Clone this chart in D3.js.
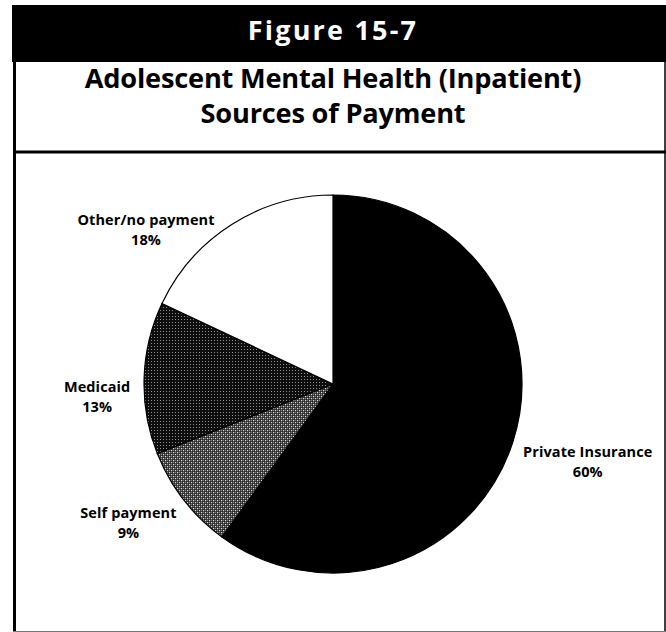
<!DOCTYPE html>
<html>
<head>
<meta charset="utf-8">
<script src="https://cdn.jsdelivr.net/npm/d3@7"></script>
<style>
  html, body { margin: 0; padding: 0; background: #fff; }
  svg { display: block; }
</style>
</head>
<body>
<svg id="chart" width="666" height="632"></svg>
<script>
// Sources of payment for adolescent inpatient mental health care (percent)
const categories = ["Private Insurance", "Self payment", "Medicaid", "Other/no payment"];
const shares = [60, 9, 13, 18];
const shareLabels = ["60%", "9%", "13%", "18%"];

const figureLabel = "Figure 15-7";
const titleLines = ["Adolescent Mental Health (Inpatient)", "Sources of Payment"];

const W = 666, H = 632;
const svg = d3.select("#chart");
const FONT = "'Open Sans', 'Noto Sans', sans-serif";

svg.append("rect").attr("width", W).attr("height", H).attr("fill", "#fff");

// Stipple textures for the two shaded slices
const defs = svg.append("defs");
const dark = defs.append("pattern").attr("id", "stipple-dark")
  .attr("patternUnits", "userSpaceOnUse").attr("width", 3).attr("height", 3);
dark.append("rect").attr("width", 3).attr("height", 3).attr("fill", "#0e0e0e");
dark.append("rect").attr("x", 1).attr("y", 1).attr("width", 1).attr("height", 1).attr("fill", "#8e8e8e");

const light = defs.append("pattern").attr("id", "stipple-light")
  .attr("patternUnits", "userSpaceOnUse").attr("width", 4).attr("height", 4);
light.append("rect").attr("width", 4).attr("height", 4).attr("fill", "#1a1a1a");
[[0, 0, "#dcdcdc"], [2, 2, "#d4d4d4"], [2, 0, "#7a7a7a"], [0, 2, "#828282"]].forEach(([x, y, c]) =>
  light.append("rect").attr("x", x).attr("y", y).attr("width", 1.3).attr("height", 1.3).attr("fill", c));

const fills = d3.scaleOrdinal()
  .domain(categories)
  .range(["#000", "url(#stipple-light)", "url(#stipple-dark)", "#fff"]);

// Frame: black header band, borders and divider
svg.append("rect").attr("x", 12).attr("y", 5).attr("width", W - 12).attr("height", 57).attr("fill", "#000");
svg.append("line").attr("x1", 14.5).attr("x2", 14.5).attr("y1", 60).attr("y2", H)
  .attr("stroke", "#000").attr("stroke-width", 3);
svg.append("line").attr("x1", 665).attr("x2", 665).attr("y1", 60).attr("y2", H)
  .attr("stroke", "#000").attr("stroke-width", 1.5);
svg.append("line").attr("x1", 13).attr("x2", W).attr("y1", 152).attr("y2", 152)
  .attr("stroke", "#000").attr("stroke-width", 3);
svg.append("line").attr("x1", 13).attr("x2", W).attr("y1", 631.5).attr("y2", 631.5)
  .attr("stroke", "#777").attr("stroke-width", 1);

svg.append("text").attr("x", 333).attr("y", 40)
  .attr("text-anchor", "middle").attr("fill", "#fff")
  .style("font-family", FONT).style("font-weight", 700).style("font-size", "27px")
  .style("letter-spacing", "2.2px")
  .text(figureLabel);

svg.selectAll("text.title").data(titleLines).join("text")
  .attr("class", "title")
  .attr("x", 333).attr("y", (d, i) => 88 + i * 35)
  .attr("text-anchor", "middle").attr("fill", "#000")
  .style("font-family", FONT).style("font-weight", 700).style("font-size", "27.2px")
  .style("letter-spacing", "-0.2px")
  .text(d => d);

// Pie
const cx = 333, cy = 384, R = 189;
const pie = d3.pie().sort(null).value(d => d.value);
const data = categories.map((c, i) => ({ name: c, value: shares[i], label: shareLabels[i] }));
const arcs = pie(data);
const arc = d3.arc().innerRadius(0).outerRadius(R);
const labelArc = d3.arc().innerRadius(250).outerRadius(250);

const g = svg.append("g").attr("transform", `translate(${cx},${cy})`);
g.selectAll("path").data(arcs).join("path")
  .attr("d", arc)
  .attr("fill", d => fills(d.data.name))
  .attr("stroke", "#000").attr("stroke-width", 1.2);

// Label placement nudges (pixels) relative to the slice centroid on the label ring
const nudge = {
  "Private Insurance": [17, -4],
  "Self payment": [-7, -19],
  "Medicaid": [14, 16],
  "Other/no payment": [-53, 52]
};

// Each label is one text block: category name over its share
const lab = g.selectAll("text.lab").data(arcs).join("text").attr("class", "lab")
  .attr("transform", d => {
    const [x, y] = labelArc.centroid(d);
    const [dx, dy] = nudge[d.data.name];
    return `translate(${x + dx},${y + dy})`;
  })
  .attr("text-anchor", "middle")
  .style("font-family", FONT).style("font-weight", 700).style("font-size", "14.5px")
  .style("letter-spacing", "0.1px");
lab.append("tspan").attr("x", 0).attr("y", 0).text(d => d.data.name);
lab.append("tspan").attr("x", 0).attr("y", 20).text(d => d.data.label);
</script>
</body>
</html>
